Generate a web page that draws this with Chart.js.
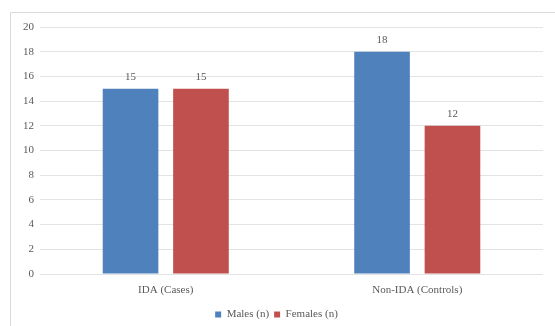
<!DOCTYPE html>
<html>
<head>
<meta charset="utf-8">
<script src="https://cdn.jsdelivr.net/npm/chart.js@4/dist/chart.umd.min.js"></script>
<style>
  html, body { margin: 0; padding: 0; background: #ffffff; }
  #wrap { width: 555px; height: 326px; position: relative; }
</style>
</head>
<body>
<div id="wrap"><canvas id="c" width="555" height="326"></canvas></div>
<script>
const categories = ['IDA (Cases)', 'Non-IDA (Controls)'];
const males = [15, 18];
const females = [15, 12];
const yTicks = [0, 2, 4, 6, 8, 10, 12, 14, 16, 18, 20];

const textColor = '#595959';
const fontFamily = '"Liberation Serif", "DejaVu Serif", serif';

// Light outline around the chart area
const frame = {
  id: 'frame',
  beforeDraw(chart) {
    const ctx = chart.ctx;
    ctx.save();
    ctx.strokeStyle = '#d9d9d9';
    ctx.lineWidth = 1;
    ctx.beginPath();
    ctx.moveTo(10.5, 330);
    ctx.lineTo(10.5, 12.5);
    ctx.lineTo(560, 12.5);
    ctx.stroke();
    ctx.restore();
  }
};

// Value labels above each bar
const valueLabels = {
  id: 'valueLabels',
  afterDatasetsDraw(chart) {
    const ctx = chart.ctx;
    ctx.save();
    ctx.fillStyle = textColor;
    ctx.font = '11px ' + fontFamily;
    ctx.textAlign = 'center';
    ctx.textBaseline = 'bottom';
    chart.data.datasets.forEach((ds, i) => {
      chart.getDatasetMeta(i).data.forEach((bar, j) => {
        ctx.fillText(String(ds.data[j]), bar.x, bar.y - 6);
      });
    });
    ctx.restore();
  }
};

new Chart(document.getElementById('c'), {
  type: 'bar',
  data: {
    labels: categories,
    datasets: [
      { label: 'Males (n)', data: males, backgroundColor: '#4f81bd' },
      { label: 'Females (n)', data: females, backgroundColor: '#c0504d' }
    ]
  },
  options: {
    responsive: false,
    animation: false,
    layout: { padding: { left: 10, right: 12, top: 27, bottom: -4 } },
    datasets: { bar: { categoryPercentage: 0.56, barPercentage: 0.79 } },
    plugins: {
      legend: {
        position: 'bottom',
        labels: {
          color: textColor,
          font: { family: fontFamily, size: 11 },
          boxWidth: 6,
          boxHeight: 6,
          padding: 5
        }
      },
      tooltip: { enabled: false }
    },
    scales: {
      x: {
        afterFit(axis) { axis.height = 30; },
        grid: { display: false },
        border: { display: false },
        ticks: { color: textColor, font: { family: fontFamily, size: 11 }, padding: 2 }
      },
      y: {
        min: 0,
        max: 20,
        afterBuildTicks(axis) { axis.ticks = yTicks.map(v => ({ value: v })); },
        afterFit(axis) { axis.width = 30; },
        grid: { color: '#e3e3e3', drawTicks: false },
        border: { display: false },
        ticks: { color: textColor, font: { family: fontFamily, size: 11 }, padding: 6 }
      }
    }
  },
  plugins: [frame, valueLabels]
});
</script>
</body>
</html>
